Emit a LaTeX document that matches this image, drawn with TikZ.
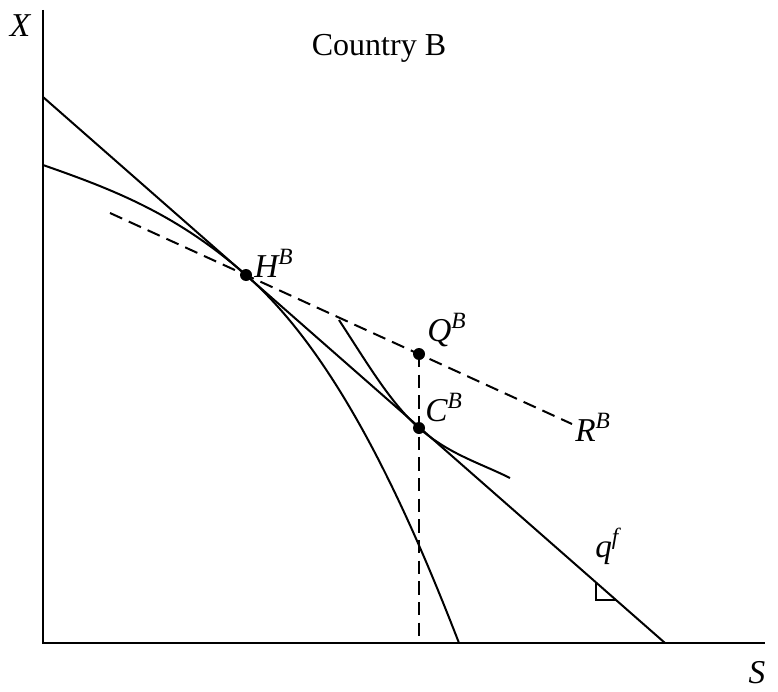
\documentclass[tikz,border=0pt]{standalone}
\usepackage{fontspec}
\setmainfont{Liberation Serif}
\begin{document}
\begin{tikzpicture}[x=0.75pt,y=-0.75pt,
  axis/.style={line width=2pt},
  curve/.style={line width=1.5pt},
  dsh/.style={line width=1.5pt, dash pattern=on 10pt off 5.5pt},
  lbl/.style={font=\fontsize{25}{29}\selectfont\itshape, inner sep=0pt},
  ttl/.style={font=\fontsize{24}{28}\selectfont, inner sep=0pt},
  dot/.style={circle, fill=black, inner sep=0pt, minimum size=9pt}]
\useasboundingbox (0,0) rectangle (778,692);
% axes
\coordinate (Ytop) at (43,10);
\coordinate (O) at (43,643);
\coordinate (Xend) at (765,643);
\draw[axis] (Ytop) -- (O) -- (Xend);
% price line
\coordinate (P1) at (43,97);
\coordinate (P2) at (665,643);
\draw[curve] (P1) -- (P2);
% PPF
\coordinate (F0) at (43,165);
\coordinate (F1) at (459,643);
\coordinate (Hc) at (246,275);
\draw[curve] (F0) .. controls (113,189.5) and (176,213.5) .. (Hc)
  .. controls (336,354) and (404,501) .. (F1);
% indifference curve
\coordinate (I0) at (339,320);
\coordinate (Cc) at (419,428);
\coordinate (I1) at (510,478);
\draw[curve] (I0) .. controls (369,366) and (391,403.5) .. (Cc)
  .. controls (449,454.3) and (480,463) .. (I1);
% dashed consumption line
\coordinate (D0) at (110,213);
\coordinate (Qc) at (419,354);
\coordinate (D1) at (572,424);
\draw[dsh] (D0) -- (D1);
\coordinate (Qb) at (419,643);
\draw[dsh] (Qc) -- (Qb);
% right angle mark
\coordinate (A1) at (596,582);
\coordinate (A2) at (596,600);
\coordinate (A3) at (616,600);
\draw[line width=1.2pt] (A1) -- (A2) -- (A3);
% dots
\node[dot] (Hdot) at (Hc) {};
\node[dot] (Qdot) at (Qc) {};
\node[dot] (Cdot) at (Cc) {};
% labels
\node[ttl] (title) at (379,48) {Country B};
\node[lbl] (Xl) at (20,26) {X};
\node[lbl] (Sl) at (757,673) {S};
\node[lbl, anchor=base west] (Hl) at (254,277) {H\textsuperscript{B}};
\node[lbl, anchor=base west] (Ql) at (427,341) {Q\textsuperscript{B}};
\node[lbl, anchor=base west] (Cl) at (425,421) {C\textsuperscript{B}};
\node[lbl, anchor=base west] (Rl) at (575,441) {R\textsuperscript{B}};
\node[lbl, anchor=base west] (ql) at (595,557) {q\textsuperscript{f}};
\end{tikzpicture}
\end{document}
